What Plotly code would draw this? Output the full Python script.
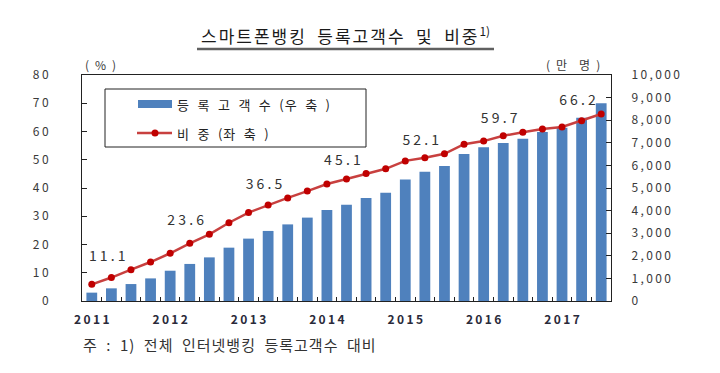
import plotly.graph_objects as go

# ---------------- data ----------------
quarters = [f"{y}Q{q}" for y in range(2011, 2018) for q in range(1, 5)][:27]
customers = [370, 560, 750, 1000, 1340, 1640, 1930, 2360, 2760, 3100, 3390, 3690,
             4030, 4260, 4560, 4790, 5380, 5720, 5970, 6500, 6800, 6990, 7180,
             7480, 7670, 8110, 8750]          # 만명 (right axis)
share = [5.9, 8.3, 11.1, 13.8, 16.9, 20.4, 23.6, 27.7, 31.3, 34.0, 36.5, 38.9,
         41.4, 43.2, 45.1, 46.8, 49.6, 50.7, 52.1, 55.5, 56.6, 58.5, 59.7,
         60.9, 61.6, 63.8, 66.2]              # % (left axis)
label_quarters = ["2011Q3", "2012Q3", "2013Q3", "2014Q3", "2015Q3", "2016Q3", "2017Q3"]
year_ticks = {"2011Q1": "2011", "2012Q1": "2012", "2013Q1": "2013", "2014Q1": "2014",
              "2015Q1": "2015", "2016Q1": "2016", "2017Q1": "2017"}
left_ticks = [0, 10, 20, 30, 40, 50, 60, 70, 80]
right_ticks = [0, 1000, 2000, 3000, 4000, 5000, 6000, 7000, 8000, 9000, 10000]

title_text = "스마트폰뱅킹 등록고객수 및 비중"
bar_name = "등록고객수(우축)"
line_name = "비중(좌축)"
note_text = "주 : 1) 전체 인터넷뱅킹 등록고객수 대비"

# ---------------- helpers ----------------
THIN = "\u2009"
EN = "\u2002"
FONT = "Noto Sans CJK KR"


def spaced(s, sep=THIN):
    return sep.join(list(s))


# plot area in pixels
L, R, T, B = 82, 611, 75, 301
W, H = 720, 373


def px(xp):
    return (xp - L) / (R - L)


def py(yp):
    return (B - yp) / (B - T)


line_text = [spaced(f"{v:.1f}", " ") if q in label_quarters else "" for q, v in zip(quarters, share)]

fig = go.Figure()
fig.add_trace(go.Bar(
    x=quarters, y=customers, name=bar_name, yaxis="y",
    marker=dict(color="#4F81BD", line=dict(width=0)),
    showlegend=False,
))
fig.add_trace(go.Scatter(
    x=quarters, y=share, name=line_name, yaxis="y2",
    mode="lines+markers+text",
    line=dict(color="#C8403F", width=2.5),
    marker=dict(color="#C00000", size=7, symbol="circle"),
    text=line_text, textposition="top left",
    textfont=dict(family=FONT, size=14, color="#333333"),
    showlegend=False, cliponaxis=False,
))

tick_font = dict(family=FONT, size=12, color="#3a3a3a")

fig.update_layout(
    width=W, height=H,
    margin=dict(l=L, r=W - R, t=T, b=H - B, pad=0, autoexpand=False),
    paper_bgcolor="white", plot_bgcolor="white",
    bargap=0.45,
    showlegend=False,
    xaxis=dict(
        type="category", categoryorder="array", categoryarray=quarters,
        tickmode="array", tickvals=quarters,
        ticktext=[spaced(year_ticks.get(q, ""), THIN) for q in quarters],
        tickangle=0, automargin=False,
        tickson="boundaries", ticks="inside", ticklen=4, tickcolor="#222",
        showline=True, linecolor="#222", linewidth=1, mirror=True,
        showgrid=False, zeroline=False,
        tickfont=dict(family=FONT, size=12, color="#2a2a3a", weight="bold"),
        ticklabelstandoff=8,
        range=[-0.5, len(quarters) - 0.5],
    ),
    yaxis=dict(
        side="right", range=[0, 10000], automargin=False,
        tickmode="array", tickvals=right_ticks,
        ticktext=[spaced(f"{v:,}") for v in right_ticks],
        ticks="inside", ticklen=5, tickcolor="#222",
        showline=True, linecolor="#222", linewidth=1,
        showgrid=False, zeroline=False,
        tickfont=tick_font, ticklabelstandoff=17,
    ),
    yaxis2=dict(
        side="left", overlaying="y", range=[0, 80], automargin=False,
        tickmode="array", tickvals=left_ticks,
        ticktext=[spaced(str(v)) for v in left_ticks],
        ticks="inside", ticklen=5, tickcolor="#222",
        showline=True, linecolor="#222", linewidth=1,
        showgrid=False, zeroline=False,
        tickfont=tick_font, ticklabelstandoff=30,
    ),
)

shapes = []
annotations = []

# title + underline
annotations.append(dict(
    text='<span style="letter-spacing:2px">' + title_text.replace(" ", EN) + "</span><sup>1)</sup>",
    xref="paper", yref="paper", x=px(345), y=py(35),
    xanchor="center", yanchor="middle", showarrow=False,
    font=dict(family=FONT, size=17, color="#1a1a1a"),
))
shapes.append(dict(type="line", xref="paper", yref="paper",
                   x0=px(197), x1=px(494), y0=py(49), y1=py(49),
                   line=dict(color="#606060", width=2.5)))

# unit labels
annotations.append(dict(
    text=f"({EN}%{EN})", xref="paper", yref="paper", x=px(100), y=py(64),
    xanchor="center", yanchor="middle", showarrow=False,
    font=dict(family=FONT, size=12, color="#3a3a3a"),
))
annotations.append(dict(
    text=f"({EN}만{EN}{EN}명{EN})", xref="paper", yref="paper", x=px(573), y=py(64),
    xanchor="center", yanchor="middle", showarrow=False,
    font=dict(family=FONT, size=12, color="#3a3a3a"),
))

# manual legend
shapes.append(dict(type="rect", xref="paper", yref="paper",
                   x0=px(105), x1=px(366), y0=py(147), y1=py(89),
                   line=dict(color="#222", width=1), fillcolor="white", layer="above"))
shapes.append(dict(type="rect", xref="paper", yref="paper",
                   x0=px(138), x1=px(172), y0=py(108), y1=py(100),
                   line=dict(width=0), fillcolor="#4F81BD", layer="above"))
shapes.append(dict(type="line", xref="paper", yref="paper",
                   x0=px(137), x1=px(172), y0=py(133), y1=py(133),
                   line=dict(color="#C8403F", width=2.5), layer="above"))
shapes.append(dict(type="circle", xref="paper", yref="paper",
                   x0=px(151.5), x1=px(158.5), y0=py(136.5), y1=py(129.5),
                   line=dict(width=0), fillcolor="#C00000", layer="above"))

annotations.append(dict(
    text=f'<span style="letter-spacing:1px">등{EN}록{EN}고{EN}객{EN}수{EN}(우{EN}축{EN})</span>',
    xref="paper", yref="paper",
    x=px(175), y=py(104), xanchor="left", yanchor="middle", showarrow=False,
    font=dict(family=FONT, size=13, color="#222"),
))
annotations.append(dict(
    text=f'<span style="letter-spacing:1px">비{EN}중{EN}(좌{EN}축{EN})</span>',
    xref="paper", yref="paper",
    x=px(175), y=py(133), xanchor="left", yanchor="middle", showarrow=False,
    font=dict(family=FONT, size=13, color="#222"),
))

# footnote
annotations.append(dict(
    text='<span style="letter-spacing:1px">' + note_text.replace(" ", EN) + "</span>",
    xref="paper", yref="paper", x=px(81), y=py(344),
    xanchor="left", yanchor="middle", showarrow=False,
    font=dict(family=FONT, size=15, color="#333333"),
))

fig.update_layout(shapes=shapes, annotations=annotations)
fig.write_html("out.html", config={"displayModeBar": False},
               post_script="document.body.style.margin='0px';")
